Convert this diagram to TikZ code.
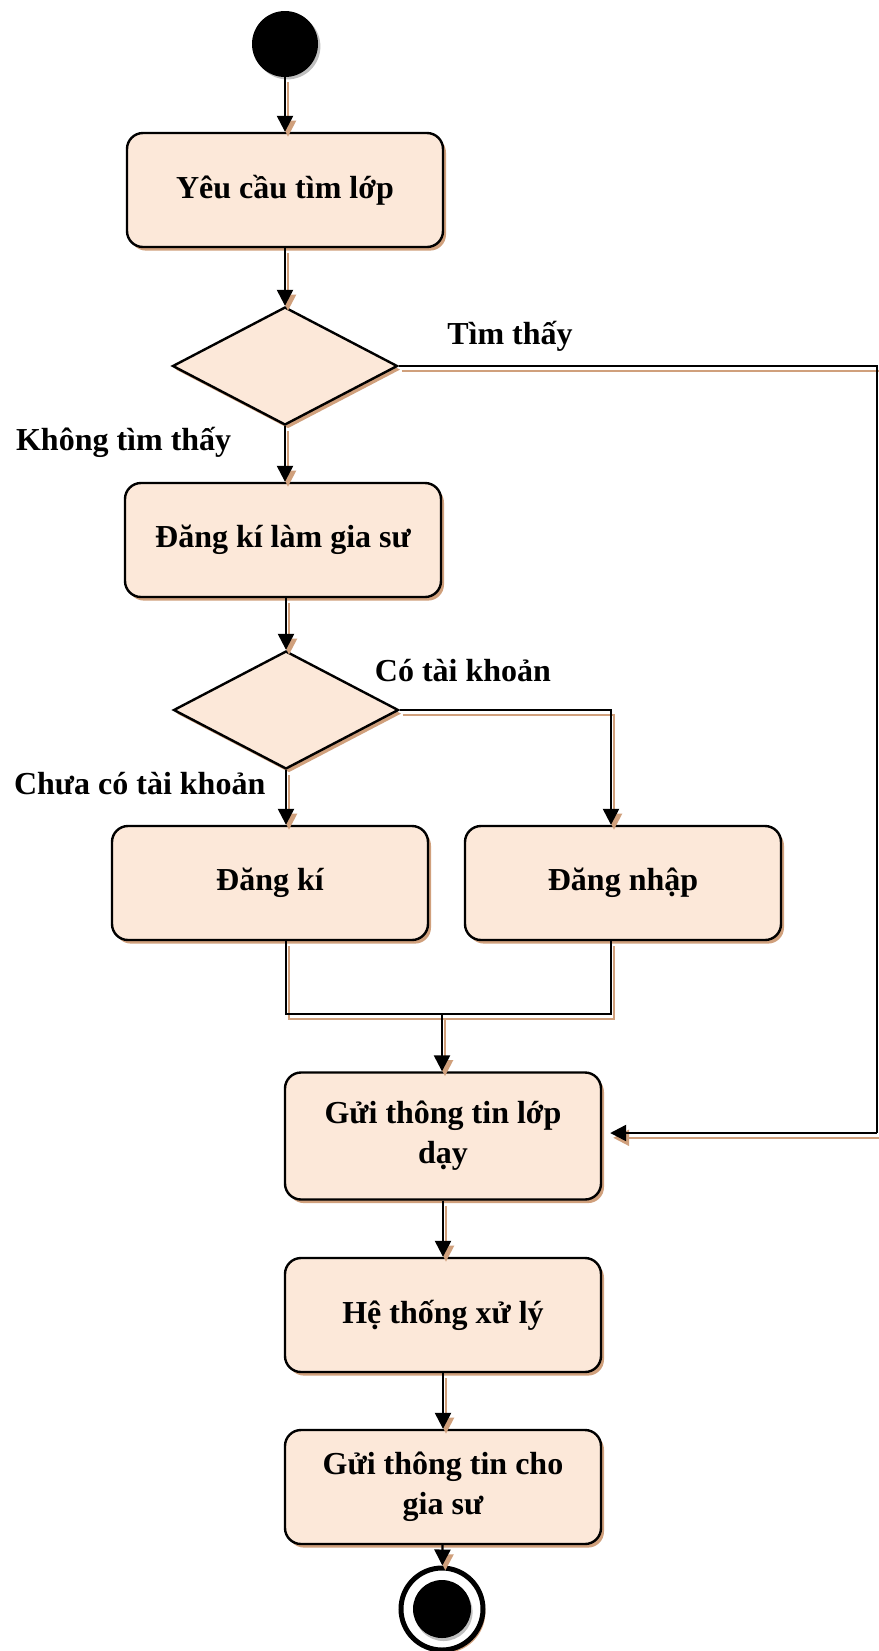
\documentclass[tikz,border=0pt]{standalone}
\usepackage{fontspec}
\setmainfont{Liberation Serif}
\usepackage{tikz}
\usetikzlibrary{positioning, arrows.meta, shapes.geometric, shadows}

\definecolor{peach}{HTML}{FCE8D9}
\definecolor{tanshade}{HTML}{D0A07C}

\tikzset{
	tanshadow/.style={drop shadow={shadow xshift=1.5pt, shadow yshift=-1.8pt, fill=tanshade, opacity=1}},
	act/.style={draw, line width=1.2pt, rounded corners=8pt, fill=peach, minimum width=158pt, minimum height=57pt, align=center, font=\bfseries\fontsize{16}{20}\selectfont, tanshadow},
	choice/.style={draw, line width=1.2pt, diamond, fill=peach, minimum width=112.5pt, minimum height=59pt, inner sep=0pt, tanshadow},
	link/.style={line width=1.2pt, preaction={draw=tanshade, line width=1.2pt, transform canvas={shift={(1.5pt,-2.4pt)}}}},
	flow/.style={link, -{Triangle[length=8pt,width=8pt]}},
	lbl/.style={font=\bfseries\fontsize{16}{20}\selectfont}
}

\begin{document}
\begin{tikzpicture}[x=0.5pt, y=-0.5pt]
		\useasboundingbox (0,0) rectangle (879,1651);
		\node[circle, fill=black, minimum size=33pt, drop shadow={shadow xshift=1.2pt, shadow yshift=-1.2pt, fill=black!25, opacity=1}] (start) at (285,44) {};
		\node[act] (b1) at (285,190) {Yêu cầu tìm lớp};
		\node[choice] (d1) at (285,366) {};
		\node[act] (b2) at (283,540) {Đăng kí làm gia sư};
		\node[choice] (d2) at (286,710) {};
		\node[act] (b3) at (270,883) {Đăng kí};
		\node[act] (b4) at (623,883) {Đăng nhập};
		\node[act, minimum height=63.5pt] (b5) at (443,1136) {Gửi thông tin lớp\\dạy};
		\node[act] (b6) at (443,1315) {Hệ thống xử lý};
		\node[act] (b7) at (443,1487) {Gửi thông tin cho\\gia sư};
		\node[circle, draw, line width=2.5pt, fill=white, minimum size=41pt, drop shadow={shadow xshift=1.2pt, shadow yshift=-1.5pt, fill=tanshade, opacity=1}] (stop) at (442,1609) {};
		\node[circle, fill=black, minimum size=29pt, drop shadow={shadow xshift=0.8pt, shadow yshift=-1.5pt, fill=black!25, opacity=1}] (stopdot) at (stop) {};
		
		\node[lbl] (ltim) at (510,336) {Tìm thấy};
		\node[lbl, anchor=west] (lkhong) at (9,442) {Không tìm thấy};
		\node[lbl] (lco) at (463,671) {Có tài khoản};
		\node[lbl, anchor=west] (lchua) at (7,784) {Chưa có tài khoản};
		
		\coordinate (edge1) at (877,1133);
		\coordinate (join1) at (442,1014);
		
		\draw[flow] (start) -- (start |- b1.north);
		\draw[flow] (b1) -- (d1);
		\draw[flow] (d1.south) -- (d1.south |- b2.north);
		\draw[link] (d1.east) -| (edge1);
		\draw[flow, shorten >=4pt] (edge1) -- (b5.east |- edge1);
		\draw[flow] (b2.south -| d2.north) -- (d2.north);
		\draw[flow] (d2.south) -- (d2.south |- b3.north);
		\draw[flow] (d2.east) -| ([xshift=-6pt]b4.north);
		\draw[link] (d2.south |- b3.south) |- (join1) -| ([xshift=-6pt]b4.south);
		\draw[flow] (join1) -- (join1 |- b5.north);
		\draw[flow] (b5) -- (b6);
		\draw[flow] (b6) -- (b7);
		\draw[flow] (b7) -- (stop);
	\end{tikzpicture}
\end{document}
